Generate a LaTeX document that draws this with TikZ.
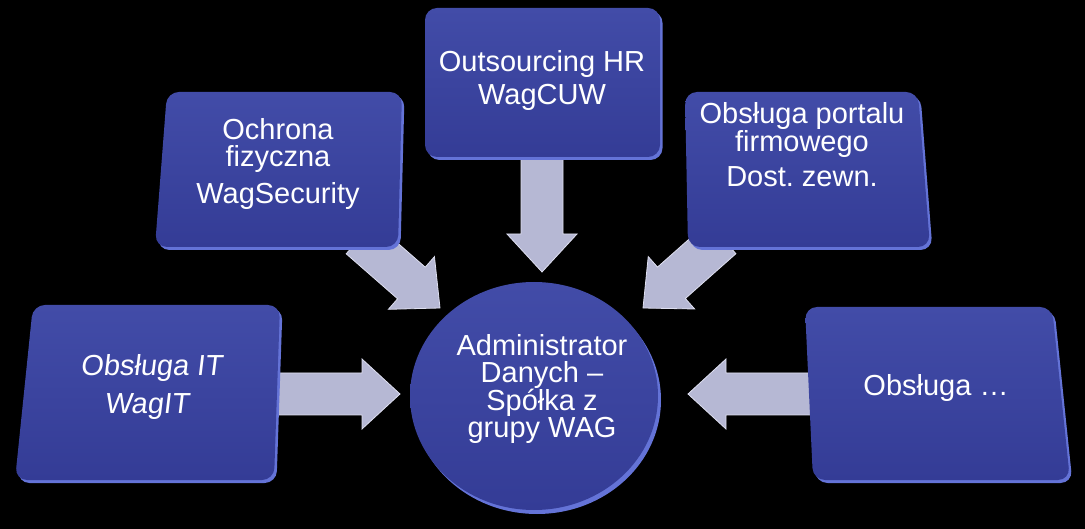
\documentclass[tikz,border=0pt]{standalone}
\usepackage{fontspec}
\setmainfont{Liberation Sans}
\usetikzlibrary{calc}
\frenchspacing
\definecolor{boxtop}{RGB}{66,76,168}
\definecolor{boxbot}{RGB}{52,60,150}
\definecolor{rimblue}{RGB}{100,115,215}
\definecolor{arrowfill}{RGB}{182,184,212}
\definecolor{arrowedge}{RGB}{222,223,240}
\newcommand{\blockarrow}[2]{%
  \coordinate (h#1) at ($(#2)!38pt!(#1)$);
  \fill[arrowbody]
    ($(#1)!21pt!90:(#2)$) -- ($(h#1)!21pt!-90:(#1)$) -- ($(h#1)!35pt!-90:(#1)$)
    -- (#2) -- ($(h#1)!35pt!90:(#1)$) -- ($(h#1)!21pt!90:(#1)$)
    -- ($(#1)!21pt!-90:(#2)$) -- cycle;
}
\tikzset{
  arrowbody/.style={fill=arrowfill, draw=arrowedge, line width=0.8pt, line join=miter},
  boxshape/.style={top color=boxtop, bottom color=boxbot, rounded corners=12pt},
  rimshape/.style={fill=rimblue, rounded corners=12pt, xshift=2.5pt, yshift=-3pt},
  lbl/.style={text=white, align=center, inner sep=0pt, font=\fontsize{29}{27}\selectfont}
}
\begin{document}
\begin{tikzpicture}[x=1pt,y=-1pt]
\useasboundingbox[fill=black] (0,0) rectangle (1085,529);

% arrow end points
\coordinate (a1s) at (270,394);  \coordinate (a1t) at (400,394);
\coordinate (a2s) at (360,238);  \coordinate (a2t) at (440,308);
\coordinate (a3s) at (542,150);  \coordinate (a3t) at (542,272);
\coordinate (a4s) at (722,238);  \coordinate (a4t) at (643,308);
\coordinate (a5s) at (815,394);  \coordinate (a5t) at (688,394);

\blockarrow{a1s}{a1t}
\blockarrow{a2s}{a2t}
\blockarrow{a3s}{a3t}
\blockarrow{a4s}{a4t}
\blockarrow{a5s}{a5t}

% boxes
\fill[rimshape] (33,305) -- (280,305) -- (274,480) -- (15,480) -- cycle;
\shade[boxshape] (33,305) -- (280,305) -- (274,480) -- (15,480) -- cycle;

\fill[rimshape] (167,92) -- (402,92) -- (398,247) -- (155,247) -- cycle;
\shade[boxshape] (167,92) -- (402,92) -- (398,247) -- (155,247) -- cycle;

\fill[rimshape] (425,8) -- (660,8) -- (660,157) -- (425,157) -- cycle;
\shade[boxshape] (425,8) -- (660,8) -- (660,157) -- (425,157) -- cycle;

\fill[rimshape] (685,92) -- (918,92) -- (930,247) -- (688,247) -- cycle;
\shade[boxshape] (685,92) -- (918,92) -- (930,247) -- (688,247) -- cycle;

\fill[rimshape] (805,307) -- (1052,307) -- (1070,480) -- (813,480) -- cycle;
\shade[boxshape] (805,307) -- (1052,307) -- (1070,480) -- (813,480) -- cycle;

% circle
\fill[rimblue] (537,400) ellipse [x radius=124pt, y radius=114pt];
\shade[top color=boxtop, bottom color=boxbot] (534,396) ellipse [x radius=124pt, y radius=114pt];

% texts
\node[lbl, xslant=0.12] (t1) at (150,387) {Obsługa IT\\[11pt]WagIT};
\node[lbl] (t2) at (278,164) {Ochrona\\fizyczna\\[8pt]WagSecurity};
\node[lbl] (t3) at (542,81) {Outsourcing HR\\[6pt]WagCUW};
\node[lbl] (t4) at (802,145) {Obsługa portalu\\firmowego\\[8pt]Dost. zewn.};
\node[lbl] (t5) at (936,388) {Obsługa …};
\node[lbl] (tc) at (542,389) {Administrator\\Danych –\\Spółka z\\grupy WAG};
\end{tikzpicture}
\end{document}
